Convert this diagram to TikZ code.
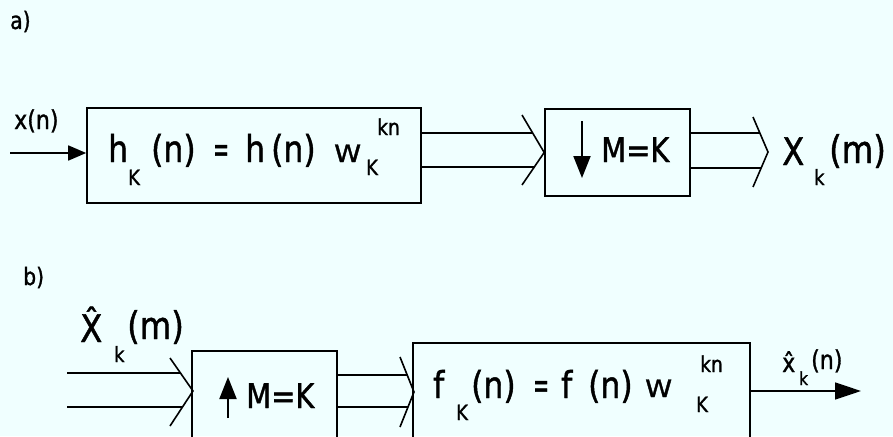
\documentclass[tikz,border=0pt]{standalone}
\usepackage{fontspec}
\setmainfont{DejaVu Sans}[FakeStretch=0.85, FakeBold=1.2]
\usetikzlibrary{arrows.meta}
\definecolor{paper}{RGB}{240,255,255}
\newcommand{\fsz}[1]{\fontsize{#1}{#1}\selectfont}
\newcommand{\flatW}{\scalebox{1}[0.75]{W}}
\newcommand{\nareq}{\scalebox{0.6}[1]{=}}

\begin{document}
\begin{tikzpicture}[x=1pt,y=-1pt,
  blk/.style={draw, inner sep=0pt, line width=1.6pt},
  txt/.style={inner sep=0pt, anchor=base west},
  sig/.style={line width=1.6pt},
  tip/.style={line width=1.6pt, -{Triangle[length=18pt,width=15pt]}},
  bigtip/.style={line width=2pt, -{Triangle[length=22pt,width=17pt]}},
  big/.style={font=\fsz{37}},
  lab/.style={font=\fsz{38}},
  sub/.style={font=\fsz{21}},
  sup/.style={font=\fsz{22}},
]
\fill[paper] (0,0) rectangle (893,436);
\useasboundingbox (0,0) rectangle (893,436);

% ---------------- a) analysis branch ----------------
\node[txt, font=\fsz{24}] (la) at (10,29) {a)};

\node[blk, minimum width=334pt, minimum height=95pt] (box1) at (254,155.5) {};
\node[blk, minimum width=145pt, minimum height=87pt] (box2) at (617.5,152.5) {};

% input x(n)
\coordinate (xin) at (10,153);
\node[txt, font=\fsz{26}] (xn) at (14,129) {x(n)};
\draw[tip] (xin) -- (xin -| box1.west);

% filter formula
\node[txt, big] (ah1) at (108,162) {h};
\node[txt, sub] (ak1) at (128,185) {K};
\node[txt, big] (an1) at (151,162) {(n)};
\node[txt, big] (aeq) at (213,162) {\nareq};
\node[txt, big] (ah2) at (245,162) {h};
\node[txt, big] (an2) at (271,162) {(n)};
\node[txt, font=\fsz{32}] (aW) at (334,162) {\flatW};
\node[txt, sub] (ak2) at (366,175) {K};
\node[txt, sup] (akn) at (377,135) {kn};

% two-line bus into the decimator
\coordinate (e1a) at (533,133);
\coordinate (e1b) at (534.5,167);
\draw[sig] (e1a -| box1.east) -- (e1a);
\draw[sig] (e1b -| box1.east) -- (e1b);
\coordinate (c1t) at (522,115);
\coordinate (c1b) at (522,185);
\draw[sig] (c1t) -- (box2.west) -- (c1b);

% decimator
\draw[bigtip] (582,121) -- (582,178);
\node[txt, font=\fsz{34}] (amk) at (601,162) {M=K};

% output bus
\coordinate (e2a) at (760,133);
\coordinate (e2b) at (761,168);
\draw[sig] (e2a -| box2.east) -- (e2a);
\draw[sig] (e2b -| box2.east) -- (e2b);
\coordinate (c2t) at (753,117);
\coordinate (c2m) at (768,152);
\coordinate (c2b) at (753,187);
\draw[sig] (c2t) -- (c2m) -- (c2b);

\node[txt, lab] (aX) at (782,165) {X};
\node[txt, sub] (aXk) at (814,185) {k};
\node[txt, lab] (aXm) at (829,163) {(m)};

% ---------------- b) synthesis branch ----------------
\node[txt, font=\fsz{24}] (lb) at (23,285) {b)};

\node[blk, minimum width=145pt, minimum height=89pt] (box3) at (264.5,395.5) {};
\node[blk, minimum width=337pt, minimum height=97pt] (box4) at (581.5,391.5) {};

\node[txt, lab] (bX) at (80,342) {\^{X}};
\node[txt, sub] (bXk) at (114,362) {k};
\node[txt, lab] (bXm) at (127,339) {(m)};

% input bus
\coordinate (i1) at (67,373);
\coordinate (i2) at (67,407);
\coordinate (j1) at (180.5,373);
\coordinate (j2) at (182.5,407);
\draw[sig] (i1) -- (j1);
\draw[sig] (i2) -- (j2);
\coordinate (c3t) at (170,358);
\coordinate (c3m) at (193,391);
\coordinate (c3b) at (170,426);
\draw[sig] (c3t) -- (c3m) -- (c3b);

% expander
\draw[bigtip] (228,418) -- (228,377);
\node[txt, font=\fsz{34}] (bmk) at (246,408) {M=K};

% bus into the synthesis filter
\coordinate (e3a) at (407,375);
\coordinate (e3b) at (408,407);
\draw[sig] (e3a -| box3.east) -- (e3a);
\draw[sig] (e3b -| box3.east) -- (e3b);
\coordinate (c4t) at (400,357);
\coordinate (c4m) at (414,392);
\coordinate (c4b) at (400,427);
\draw[sig] (c4t) -- (c4m) -- (c4b);

% synthesis filter formula
\node[txt, big] (bf1) at (433,398) {f};
\node[txt, sub] (bk1) at (456,420) {K};
\node[txt, big] (bn1) at (471,398) {(n)};
\node[txt, big] (beq) at (533,398) {\nareq};
\node[txt, big] (bf2) at (561,398) {f};
\node[txt, big] (bn2) at (588,398) {(n)};
\node[txt, font=\fsz{32}] (bW) at (645,397) {\flatW};
\node[txt, sub] (bk2) at (696,412) {K};
\node[txt, sup] (bkn) at (700,372) {kn};

% output
\coordinate (xout) at (861,391);
\draw[line width=1.6pt, -{Triangle[length=26pt,width=17pt]}] (xout -| box4.east) -- (xout);
\node[txt, font=\fsz{26}] (bx) at (782,372) {\^{x}};
\node[txt, font=\fsz{18}] (bxk) at (799,385) {k};
\node[txt, font=\fsz{26}] (bxn) at (811,369) {(n)};
\end{tikzpicture}
\end{document}
